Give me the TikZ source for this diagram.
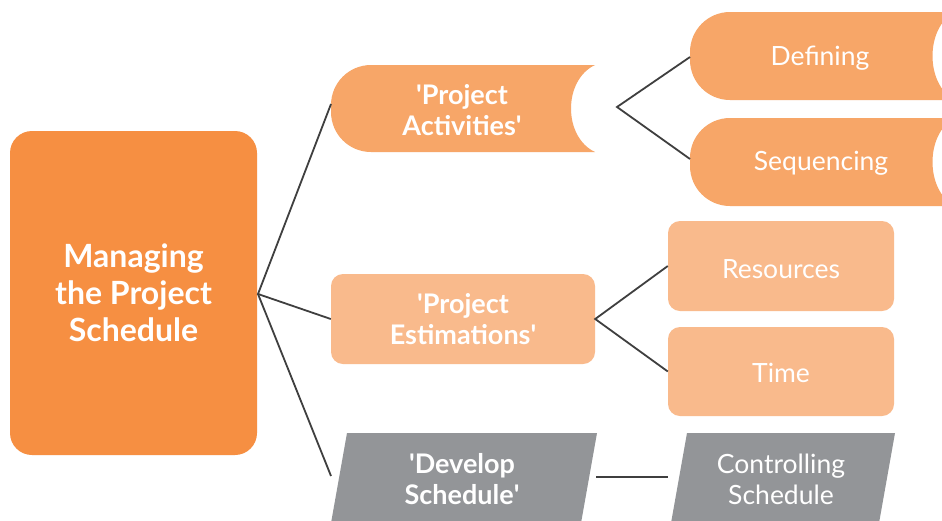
\documentclass[tikz,border=0pt]{standalone}
\usepackage{fontspec}
\setmainfont{Lato}
\definecolor{mainor}{HTML}{F68F42}
\definecolor{midor}{HTML}{F7A668}
\definecolor{lightor}{HTML}{F9BA8C}
\definecolor{greyb}{HTML}{939598}
\definecolor{linec}{HTML}{3F3F3F}
\newcommand{\sq}{\textquotesingle}
\tikzset{
  conn/.style={draw=linec, line width=1.8pt},
  boldtxt/.style={text=white, font=\bfseries\fontsize{27}{31}\selectfont, align=center},
  regtxt/.style={text=white, font=\fontsize{26.5}{31}\selectfont, align=center},
  mainbox/.style={fill=mainor, rounded corners=22pt, minimum width=247pt, minimum height=324pt,
    text=white, font=\bfseries\fontsize{32}{37}\selectfont, align=center, inner sep=0pt},
  lightbox/.style={fill=lightor, rounded corners=12pt, inner sep=0pt},
}
\begin{document}
\begin{tikzpicture}[x=1pt,y=-1pt]
\useasboundingbox (0,0) rectangle (942,520);
\fill[white] (0,0) rectangle (942,520);
\clip (0,0) rectangle (942,520);

% main box
\node[mainbox] (main) at (133.5,293) {Managing\\the Project\\Schedule};
\coordinate (mainR) at (258,294);

% Project Activities
\fill[midor] (595,65) .. controls (563,80) and (563,137) .. (595,152)
  [rounded corners=40pt] -- (331,152) -- (331,65) [sharp corners] -- cycle;
\node[boldtxt] (pa) at (462,110) {\sq Project\\Activities\sq};
\coordinate (paL) at (331,104);
\coordinate (paR) at (617,107);

% Defining / Sequencing
\fill[midor] (955,12) .. controls (925,27) and (925,85) .. (955,100)
  [rounded corners=40pt] -- (690,100) -- (690,12) [sharp corners] -- cycle;
\node[regtxt] (def) at (820,58) {Defining};
\coordinate (defL) at (690,57);
\fill[midor] (955,118) .. controls (925,133) and (925,191) .. (955,206)
  [rounded corners=40pt] -- (690,206) -- (690,118) [sharp corners] -- cycle;
\node[regtxt] (seq) at (821,163) {Sequencing};
\coordinate (seqL) at (690,159);

% Project Estimations
\node[lightbox, minimum width=264pt, minimum height=90pt] (pe) at (463,319) {};
\node[boldtxt] (pet) at (463,319) {\sq Project\\Estimations\sq};
\node[lightbox, minimum width=226pt, minimum height=90pt] (res) at (781,266) {};
\node[regtxt] (rest) at (781,269) {Resources};
\node[lightbox, minimum width=226pt, minimum height=89pt] (time) at (781,371.5) {};
\node[regtxt] (timet) at (781,373) {Time};

% Develop Schedule
\fill[greyb] (347,433) -- (597,433) -- (578,540) -- (328,540) -- cycle;
\node[boldtxt] (ds) at (462,479) {\sq Develop\\Schedule\sq};
\fill[greyb] (687,433) -- (895,433) -- (876,540) -- (668,540) -- cycle;
\node[regtxt] (cs) at (781,479) {Controlling\\Schedule};
\coordinate (dsL) at (331,476);
\coordinate (dsR) at (596,477);
\coordinate (csL) at (668,477);

% connectors
\draw[conn] (paL) -- (mainR) -- (pe.west);
\draw[conn] (mainR) -- (dsL);
\draw[conn] (defL) -- (paR) -- (seqL);
\draw[conn] (res.west) -- (pe.east) -- (time.west);
\draw[conn] (dsR) -- (csL);
\end{tikzpicture}
\end{document}
